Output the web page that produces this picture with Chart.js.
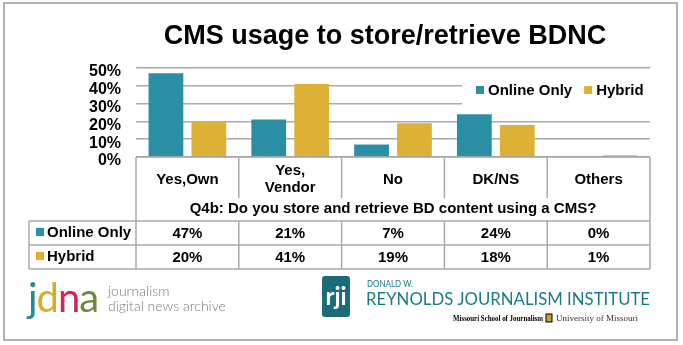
<!DOCTYPE html>
<html>
<head>
<meta charset="utf-8">
<script src="https://cdn.jsdelivr.net/npm/chart.js@4"></script>
<style>
  html,body{margin:0;padding:0;background:#fff;}
  #box{width:683px;height:345px;}
</style>
</head>
<body>
<div id="box"><canvas id="grafico" width="683" height="345"></canvas></div>
<script>
// Dados do gráfico
const titulo = 'CMS usage to store/retrieve BDNC';
const pergunta = 'Q4b: Do you store and retrieve BD content using a CMS?';
const categorias = [['Yes,Own'], ['Yes,', 'Vendor'], ['No'], ['DK/NS'], ['Others']];
const series = ['Online Only', 'Hybrid'];
const onlineOnly = [47, 21, 7, 24, 0];
const hybrid = [20, 41, 19, 18, 1];
const yMax = 50;
const yPasso = 10;

const corTeal = '#2a8fa5';
const corOuro = '#dcb135';
const corLinha = '#a9a9a9';
const fonte = "'Liberation Sans', Arial, sans-serif";

Chart.defaults.font.family = fonte;
Chart.defaults.color = '#000';

// Moldura, legenda, tabela e logos
const extras = {
  id: 'extras',
  beforeDraw(chart){
    const c = chart.ctx;
    c.save();
    c.fillStyle = '#fff';
    c.fillRect(0, 0, chart.width, chart.height);
    c.strokeStyle = '#b3b3b3';
    c.lineWidth = 2;
    c.strokeRect(4, 3, 673, 337);
    c.restore();
  },
  afterDatasetsDraw(chart){
    // legenda dentro da área do gráfico
    const c = chart.ctx;
    c.save();
    c.fillStyle = '#fff';
    c.fillRect(462, 77, 190, 34);
    c.font = 'bold 15px ' + fonte;
    c.textBaseline = 'middle';
    let x = 476;
    chart.data.datasets.forEach(ds=>{
      c.fillStyle = ds.backgroundColor;
      c.fillRect(x, 86, 8, 8);
      c.fillStyle = '#000';
      c.fillText(ds.label, x + 12, 91);
      x += 12 + c.measureText(ds.label).width + 12;
    });
    c.restore();
  },
  afterDraw(chart){
    const c = chart.ctx;
    const xs = chart.scales.x;
    const area = chart.chartArea;
    const n = categorias.length;
    const topo = area.bottom;
    const linhaTopo = xs.bottom;
    const altLinha = 24;
    const fim = linhaTopo + altLinha * 2;
    const esq = 29;
    const borda = i => xs.getPixelForValue(i - 0.5);

    c.save();
    c.strokeStyle = corLinha;
    c.lineWidth = 1.5;
    c.beginPath();
    c.moveTo(area.left, topo); c.lineTo(area.right, topo);
    for (let r = 0; r <= 2; r++){
      c.moveTo(esq, linhaTopo + r*altLinha); c.lineTo(area.right, linhaTopo + r*altLinha);
    }
    c.moveTo(esq, linhaTopo); c.lineTo(esq, fim);
    for (let i = 0; i <= n; i++){
      const bx = borda(i);
      if (i === 0 || i === n){
        c.moveTo(bx, topo); c.lineTo(bx, fim);
      } else {
        c.moveTo(bx, topo); c.lineTo(bx, topo + 41);
        c.moveTo(bx, linhaTopo); c.lineTo(bx, fim);
      }
    }
    c.stroke();

    // linhas da tabela
    c.font = 'bold 15px ' + fonte;
    c.textBaseline = 'middle';
    chart.data.datasets.forEach((ds, r)=>{
      const cy = linhaTopo + r*altLinha + altLinha/2;
      c.fillStyle = ds.backgroundColor;
      c.fillRect(36, cy - 5, 8, 8);
      c.fillStyle = '#000';
      c.textAlign = 'left';
      c.fillText(ds.label, 47, cy);
      c.textAlign = 'center';
      ds.data.forEach((v, i)=>{
        c.fillText(v + '%', xs.getPixelForValue(i), cy + 1);
      });
    });

    // título
    c.font = 'bold 27px ' + fonte;
    c.textAlign = 'center';
    c.fillText(titulo, 385, 37);

    // logo jdna
    c.textAlign = 'left';
    c.textBaseline = 'alphabetic';
    c.font = '40px Lato, sans-serif';
    const letras = [['j','#1b8c9b'],['d','#d8ab2c'],['n','#d4264f'],['a','#6e8b3d']];
    let lx = 28;
    letras.forEach(([l, cor])=>{
      c.fillStyle = cor;
      c.fillText(l, lx, 312);
      lx += c.measureText(l).width - 1;
    });
    c.fillStyle = '#7a7a7a';
    c.font = '300 14px Lato, sans-serif';
    c.fillText('journalism', 108, 296, 62);
    c.fillText('digital news archive', 108, 311, 118);

    // logo RJI
    c.fillStyle = '#1c6b78';
    c.beginPath();
    c.roundRect(322, 276, 28, 41, 3);
    c.fill();
    c.fillStyle = '#fff';
    c.font = 'bold 24px Lato, sans-serif';
    c.textAlign = 'center';
    c.fillText('rji', 336, 305, 22);
    c.textAlign = 'left';
    c.fillStyle = '#1a7a88';
    c.font = '9px Lato, sans-serif';
    c.fillText('DONALD W.', 367, 287, 46);
    c.font = '18px Lato, sans-serif';
    c.fillText('REYNOLDS JOURNALISM INSTITUTE', 366, 305, 284);
    c.fillStyle = '#000';
    c.font = 'bold 9px "Liberation Serif", serif';
    c.fillText('Missouri School of Journalism', 453, 321, 90);
    c.fillStyle = '#c9a227';
    c.fillRect(546, 314, 6, 8);
    c.strokeStyle = '#000';
    c.lineWidth = 1;
    c.strokeRect(546, 314, 6, 8);
    c.fillStyle = '#333';
    c.font = '9px "Liberation Serif", serif';
    c.fillText('University of Missouri', 556, 321, 91);
    c.restore();
  }
};

const ctx = document.getElementById('grafico').getContext('2d');
new Chart(ctx, {
  type: 'bar',
  data: {
    labels: categorias,
    datasets: [
      { label: series[0], data: onlineOnly, backgroundColor: corTeal, barPercentage: 0.81, categoryPercentage: 0.835 },
      { label: series[1], data: hybrid, backgroundColor: corOuro, barPercentage: 0.81, categoryPercentage: 0.835 }
    ]
  },
  options: {
    responsive: false,
    animation: false,
    layout: { padding: { top: 68, right: 33, bottom: 124, left: 0 } },
    plugins: { legend: { display: false }, title: { display: false }, tooltip: { enabled: false } },
    scales: {
      y: {
        min: 0, max: yMax,
        ticks: { stepSize: yPasso, autoSkip: false, callback: v => v + '%', font: { size: 16, weight: 'bold' }, padding: 15, labelOffset: 4 },
        grid: { color: corLinha, lineWidth: 1.5, drawTicks: false },
        border: { display: false },
        afterFit: s => { s.width = 136; }
      },
      x: {
        grid: { display: false },
        border: { display: false },
        ticks: { font: { size: 15, weight: 'bold', lineHeight: 1.15 }, padding: 6, crossAlign: 'center', maxRotation: 0, autoSkip: false },
        title: { display: true, text: pergunta, font: { size: 15, weight: 'bold' }, padding: { top: 0, bottom: 3 } },
        afterFit: s => { s.height = 64; }
      }
    }
  },
  plugins: [extras]
});
</script>
</body>
</html>
